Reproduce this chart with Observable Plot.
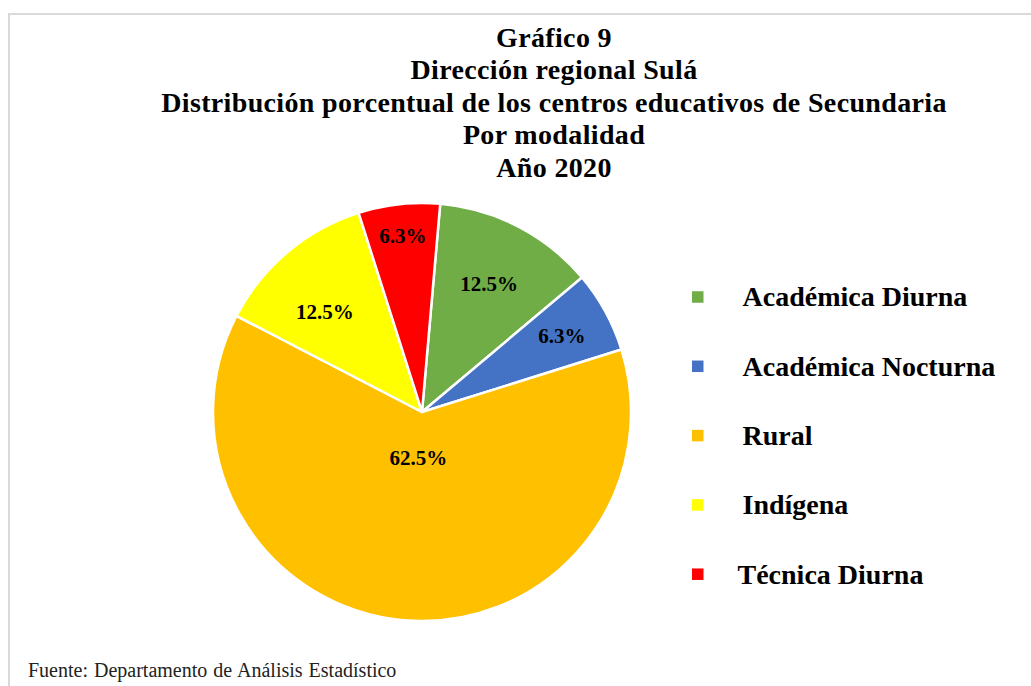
<!DOCTYPE html>
<html>
<head>
<meta charset="utf-8">
<script src="https://cdn.jsdelivr.net/npm/d3@7"></script>
<script src="https://cdn.jsdelivr.net/npm/@observablehq/plot@0.6"></script>
<style>
  html, body { margin: 0; padding: 0; background: #fff; overflow: hidden; width: 1031px; height: 686px; }
  #frame { position: absolute; left: 8px; top: 13px; width: 1100px; height: 700px;
           border-left: 2px solid #d9d9d9; border-top: 2px solid #d9d9d9; box-sizing: border-box; }
  #title { position: absolute; left: 0; width: 1108px; top: 21.5px; text-align: center;
           font-family: "Liberation Serif", "Times New Roman", serif; font-weight: bold;
           font-size: 28px; letter-spacing: 0.35px; line-height: 32.5px; color: #000; }
  #chart { position: absolute; left: 0; top: 190px; }
  #caption { position: absolute; left: 28px; top: 660px; font-family: "Liberation Serif", "Times New Roman", serif;
             font-size: 20px; line-height: 20px; color: #222; word-spacing: 1px; }
</style>
</head>
<body>
<div id="frame"></div>
<div id="title">Gráfico 9<br>Dirección regional Sulá<br>Distribución porcentual de los centros educativos de Secundaria<br>Por modalidad<br>Año 2020</div>
<div id="chart"></div>
<div id="caption">Fuente: Departamento de Análisis Estadístico</div>
<script>
// ---- data ----
const categories = ["Académica Diurna", "Académica Nocturna", "Rural", "Indígena", "Técnica Diurna"];
const percents = [12.5, 6.3, 62.5, 12.5, 6.3];
const colors = ["#70AD47", "#4472C4", "#FFC000", "#FFFF00", "#FF0000"];

// ---- layout (pixel-space domain) ----
const W = 1031, H = 450;
const CX = 422, CY = 222, R = 209;
const START = 5 * Math.PI / 180;
const labelRadius = [0.69, 0.76, 0.22, 0.67, 0.85];
const labelTurn = [0, 0, 0, -4, 0]; // degrees off the slice bisector
const legendX = 692, legendTextX = 742, legendY0 = 107, legendStep = 69.3, sq = 11.5;

const rows = categories.map((c, i) => ({cat: c, pct: percents[i], i}));
const arcs = d3.pie().value(d => d.pct).sort(null).startAngle(START).endAngle(START + 2 * Math.PI)(rows);
const labels = arcs.map((a, i) => {
  const m = (a.startAngle + a.endAngle) / 2 + labelTurn[i] * Math.PI / 180, d = labelRadius[i] * R;
  return {cat: a.data.cat, text: a.data.pct.toFixed(1) + "%", x: CX + Math.sin(m) * d, y: CY - Math.cos(m) * d};
});

const serif = "Liberation Serif, Times New Roman, serif";

const slices = (index, scales) => {
  const x = typeof scales.x === "function" ? scales.x : (v => v);
  const y = typeof scales.y === "function" ? scales.y : (v => v);
  const color = typeof scales.color === "function" ? scales.color : (c => colors[categories.indexOf(c)]);
  const r = x(CX + R) - x(CX);
  const arc = d3.arc().innerRadius(0).outerRadius(r);
  const g = d3.create("svg:g").attr("transform", `translate(${x(CX)},${y(CY)})`);
  g.selectAll("path").data(arcs).join("path")
    .attr("d", arc)
    .attr("fill", d => color(d.data.cat))
    .attr("stroke", "#fff")
    .attr("stroke-width", 2.5)
    .attr("stroke-linejoin", "round");
  return g.node();
};

const plot = Plot.plot({
  width: W, height: H,
  margin: 0,
  x: {domain: [0, W], range: [0, W], axis: null},
  y: {domain: [0, H], range: [0, H], axis: null},
  color: {domain: categories, range: colors},
  style: {background: "transparent"},
  marks: [
    slices,
    Plot.text(labels, {x: "x", y: "y", text: "text", fontSize: 21, fontWeight: "bold",
      fontFamily: serif, fill: "#000"}),
    Plot.rect(rows, {x1: () => legendX, x2: () => legendX + sq,
      y1: d => legendY0 + d.i * legendStep - sq / 2, y2: d => legendY0 + d.i * legendStep + sq / 2,
      fill: d => d.cat}),
    Plot.text(rows, {x: d => legendTextX - (d.i === 4 ? 5 : 0), y: d => legendY0 + d.i * legendStep,
      text: "cat", textAnchor: "start", fontSize: 28, fontWeight: "bold", fontFamily: serif, fill: "#000"})
  ]
});
document.getElementById("chart").appendChild(plot);
</script>
</body>
</html>
